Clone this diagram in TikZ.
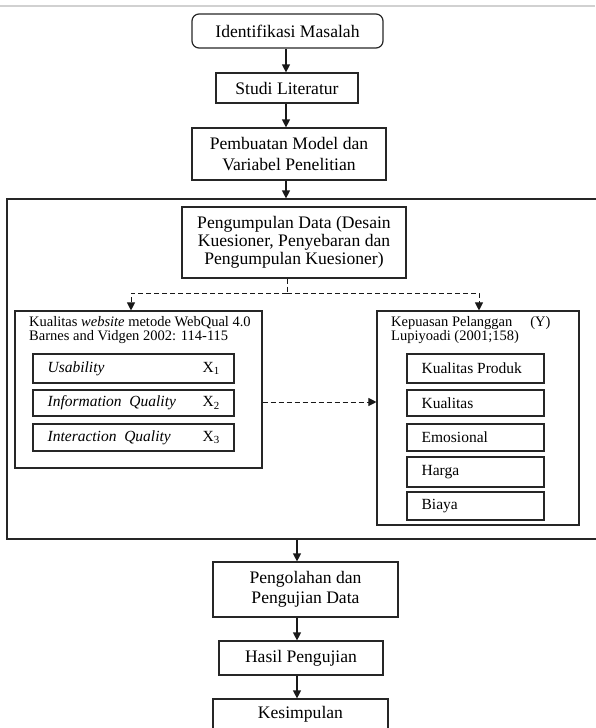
\documentclass[tikz,border=0pt]{standalone}
\usepackage{fontspec}
\setmainfont{Liberation Serif}
\usetikzlibrary{arrows.meta}
\begin{document}
\begin{tikzpicture}[x=1pt,y=-1pt,
  box/.style={draw=black!85, line width=1.2pt, align=center, inner sep=0pt,
    font=\fontsize{17.6}{20.5}\selectfont},
  sub/.style={draw=black!85, line width=1.1pt, inner sep=0pt},
  small/.style={inner sep=0pt, font=\fontsize{14.5}{14.2}\selectfont, align=left},
  item/.style={inner sep=0pt, font=\fontsize{15.5}{15}\selectfont, align=left},
  arr/.style={-{Triangle[length=8pt,width=8pt]}, line width=1.2pt, draw=black!90},
  dasharr/.style={arr, dashed, dash pattern=on 5pt off 3pt, line width=1pt},
  dashline/.style={dashed, dash pattern=on 5pt off 3pt, line width=1pt, draw=black!90}
]
\useasboundingbox (0,0) rectangle (595,728);
\draw[black!18, line width=1.5pt] (0,6) -- (595,6);

% top chain
\node[box, rounded corners=7pt, minimum width=191pt, minimum height=34pt] (ident) at (287.5,31) {Identifikasi Masalah};
\node[box, minimum width=142pt, minimum height=30pt] (studi) at (287,88) {Studi Literatur};
\node[box, minimum width=194pt, minimum height=52pt] (model) at (289,154) {Pembuatan Model dan\\Variabel Penelitian};

% big frame
\node[draw=black!85, line width=1.2pt, minimum width=593pt, minimum height=340pt, inner sep=0pt] (big) at (303.5,369) {};

\node[box, minimum width=224pt, minimum height=71pt, font=\fontsize{17.6}{18}\selectfont] (peng) at (294,242.5)
  {Pengumpulan Data (Desain\\Kuesioner, Penyebaran dan\\Pengumpulan Kuesioner)};

% left group
\node[sub, minimum width=247pt, minimum height=157pt] (lbox) at (138.5,389.5) {};
\node[small, anchor=north west] (lhead) at (29,316) {Kualitas \textit{website} metode WebQual 4.0\\Barnes and Vidgen 2002: 114-115};

\node[sub, minimum width=201pt, minimum height=29pt] (l1) at (133.5,368.5) {};
\node[item, anchor=west] (l1t) at ([xshift=15pt]l1.west) {\textit{Usability}};
\node[item, anchor=west] (l1x) at ([xshift=170pt]l1.west) {X\textsubscript{1}};
\node[sub, minimum width=201pt, minimum height=26pt] (l2) at (133.5,403) {};
\node[item, anchor=west] (l2t) at ([xshift=15pt]l2.west) {\textit{Information\ \ Quality}};
\node[item, anchor=west] (l2x) at ([xshift=170pt]l2.west) {X\textsubscript{2}};
\node[sub, minimum width=201pt, minimum height=27pt] (l3) at (133.5,437.5) {};
\node[item, anchor=west] (l3t) at ([xshift=15pt]l3.west) {\textit{Interaction\ \ Quality}};
\node[item, anchor=west] (l3x) at ([xshift=170pt]l3.west) {X\textsubscript{3}};

% right group
\node[sub, minimum width=202pt, minimum height=214pt] (rbox) at (478,418) {};
\node[small, anchor=north west] (rhead) at (391,316) {Kepuasan Pelanggan\hspace*{18pt}(Y)\\Lupiyoadi (2001;158)};

\node[sub, minimum width=137pt, minimum height=29pt] (r1) at (475.5,368.5) {};
\node[item, anchor=west] (r1t) at ([xshift=15pt]r1.west) {Kualitas Produk};
\node[sub, minimum width=137pt, minimum height=26pt] (r2) at (475.5,403) {};
\node[item, anchor=west] (r2t) at ([xshift=15pt]r2.west) {Kualitas};
\node[sub, minimum width=137pt, minimum height=27pt] (r3) at (475.5,437.5) {};
\node[item, anchor=west] (r3t) at ([xshift=15pt]r3.west) {Emosional};
\node[sub, minimum width=137pt, minimum height=30pt] (r4) at (475.5,472) {};
\node[item, anchor=west] (r4t) at ([xshift=15pt]r4.west) {Harga};
\node[sub, minimum width=137pt, minimum height=28pt] (r5) at (475.5,506) {};
\node[item, anchor=west] (r5t) at ([xshift=15pt]r5.west) {Biaya};

% bottom chain
\node[box, minimum width=185pt, minimum height=55pt] (olah) at (305.5,589.5) {Pengolahan dan\\Pengujian Data};
\node[box, minimum width=164pt, minimum height=34pt] (hasil) at (301,658) {Hasil Pengujian};
\node[box, minimum width=175pt, minimum height=44pt, text depth=0pt] (kes) at (300.5,721) {};
\node[inner sep=0pt, font=\fontsize{17.6}{20.5}\selectfont, anchor=base] (kest) at (300.5,718) {Kesimpulan};

% connectors
\coordinate (ax) at (286,0);
\coordinate (bx) at (297,0);
\coordinate (dj) at (287,293);
\coordinate (lax) at (131,0);
\coordinate (rax) at (479,0);
\coordinate (dy) at (0,402);

\draw[arr] (ident.south -| ax) -- (studi.north -| ax);
\draw[arr] (studi.south -| ax) -- (model.north -| ax);
\draw[arr] (model.south -| ax) -- (big.north -| ax);

\draw[dashline] (peng.south -| dj) -- (dj);
\draw[dasharr] (dj) -| (lbox.north -| lax);
\draw[dasharr] (dj) -| (rbox.north -| rax);
\draw[dasharr] (lbox.east |- dy) -- (rbox.west |- dy);

\draw[arr] (big.south -| bx) -- (olah.north -| bx);
\draw[arr] (olah.south -| bx) -- (hasil.north -| bx);
\draw[arr] (hasil.south -| bx) -- (kes.north -| bx);
\end{tikzpicture}
\end{document}
